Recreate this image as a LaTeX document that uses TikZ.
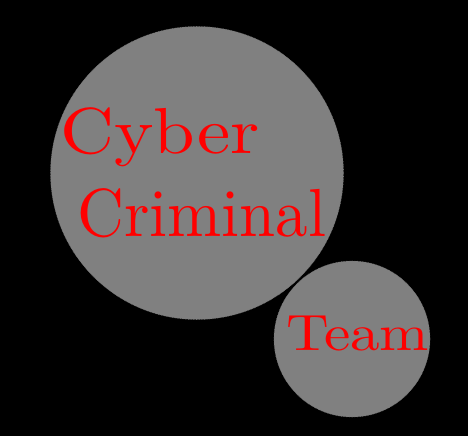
\documentclass[tikz,border=0pt]{standalone}
\usepackage{fontspec}
\newfontfamily\cmten{lmroman10-regular.otf}
\tikzset{
  bubble/.style={circle, fill=gray, draw=black!55, densely dotted, line width=0.6pt, inner sep=0pt},
  word/.style={text=red, inner sep=0pt, anchor=base west},
}
\begin{document}
\begin{tikzpicture}[x=1pt,y=-1pt]
\fill[black] (0,0) rectangle (468,436);
\useasboundingbox (0,0) rectangle (468,436);
\node[bubble, minimum size=293pt] (big) at (197,173) {};
\node[bubble, minimum size=156pt] (small) at (352,339) {};
\node[word, font=\cmten\fontsize{65}{78}\selectfont] (cyber) at (60,153) {\scalebox{1.15}[1]{Cyber}};
\node[word, font=\cmten\fontsize{68}{80}\selectfont] (criminal) at (77,236) {\scalebox{0.955}[1]{Criminal}};
\node[word, font=\cmten\fontsize{51}{62}\selectfont] (team) at (286,350) {\scalebox{1.16}[1]{Team}};
\end{tikzpicture}
\end{document}
